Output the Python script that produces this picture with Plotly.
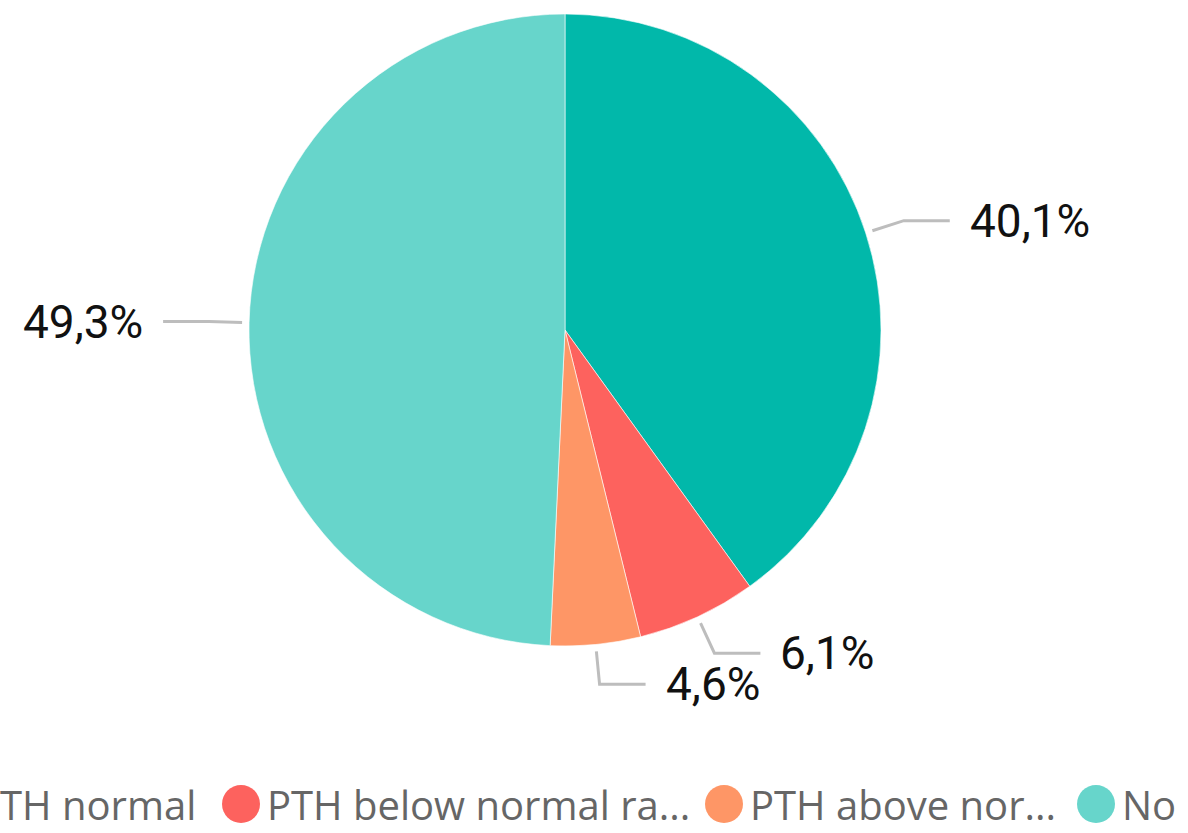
import math
import plotly.graph_objects as go

# Slice data (clockwise from 12 o'clock)
categories = ["PTH normal", "PTH below normal range", "PTH above normal range", "No PTH data"]
shares = [40.1, 6.1, 4.6, 49.3]
value_labels = ["40,1%", "6,1%", "4,6%", "49,3%"]
legend_labels = ["PTH normal", "PTH below normal ra...", "PTH above nor...", "No"]
colors = ["#01B8AA", "#FD625E", "#FE9666", "#67D5CB"]

# Canvas / pie geometry in pixels
W, H = 1188, 833
CX, CY, R = 565, 330, 316
LINE_START = R + 7      # leader line begins just outside the arc
LINE_ELBOW = R + 40     # radial part ends here
LINE_RUN = 46           # horizontal part
LABEL_GAP = 18

fig = go.Figure()

fig.add_trace(go.Pie(
    labels=categories,
    values=shares,
    marker=dict(colors=colors, line=dict(color="white", width=0.6)),
    sort=False,
    direction="clockwise",
    rotation=0,
    textinfo="none",
    hoverinfo="label+percent",
    showlegend=False,
    domain=dict(x=[(CX - R) / W, (CX + R) / W],
                y=[1 - (CY + R) / H, 1 - (CY - R) / H]),
))

# Leader lines and value labels placed at each slice's mid-angle
total = sum(shares)
cum = 0.0
annotations = []
for val, txt in zip(shares, value_labels):
    theta = math.radians((cum + val / 2) / total * 360)
    cum += val
    ux, uy = math.sin(theta), -math.cos(theta)
    side = 1 if ux >= 0 else -1
    x0, y0 = CX + LINE_START * ux, CY + LINE_START * uy
    x1, y1 = CX + LINE_ELBOW * ux, CY + LINE_ELBOW * uy
    x2, y2 = x1 + side * LINE_RUN, y1
    fig.add_trace(go.Scatter(
        x=[x0, x1, x2], y=[y0, y1, y2], mode="lines",
        line=dict(color="#BDBDBD", width=3),
        hoverinfo="skip", showlegend=False,
    ))
    annotations.append(dict(
        x=x2 + side * LABEL_GAP, y=y2, xref="x", yref="y",
        text=txt, showarrow=False,
        xanchor="left" if side > 0 else "right", yanchor="middle",
        font=dict(family="Roboto", size=46, color="#111111"),
    ))

# Legend row along the bottom edge (first entry runs off the left edge)
LEG_Y = 804
legend_marker_x = [-26, 241, 724, 1096]
legend_text_x = [198, 265, 748, 1120]
legend_text_anchor = ["right", "left", "left", "left"]
fig.add_trace(go.Scatter(
    x=legend_marker_x, y=[LEG_Y] * len(colors), mode="markers",
    marker=dict(color=colors, size=38, line=dict(width=0)),
    hoverinfo="skip", showlegend=False, cliponaxis=False,
))
for tx, lab, anc in zip(legend_text_x, legend_labels, legend_text_anchor):
    annotations.append(dict(
        x=tx, y=LEG_Y, xref="x", yref="y", text=lab, showarrow=False,
        xanchor=anc, yanchor="middle",
        font=dict(family="Open Sans", size=40, color="#666666"),
    ))

fig.update_layout(
    width=W, height=H,
    margin=dict(l=0, r=0, t=0, b=0),
    paper_bgcolor="white", plot_bgcolor="rgba(0,0,0,0)",
    xaxis=dict(range=[0, W], visible=False, fixedrange=True),
    yaxis=dict(range=[H, 0], visible=False, fixedrange=True),
    annotations=annotations,
)

fig.write_html("out.html")
